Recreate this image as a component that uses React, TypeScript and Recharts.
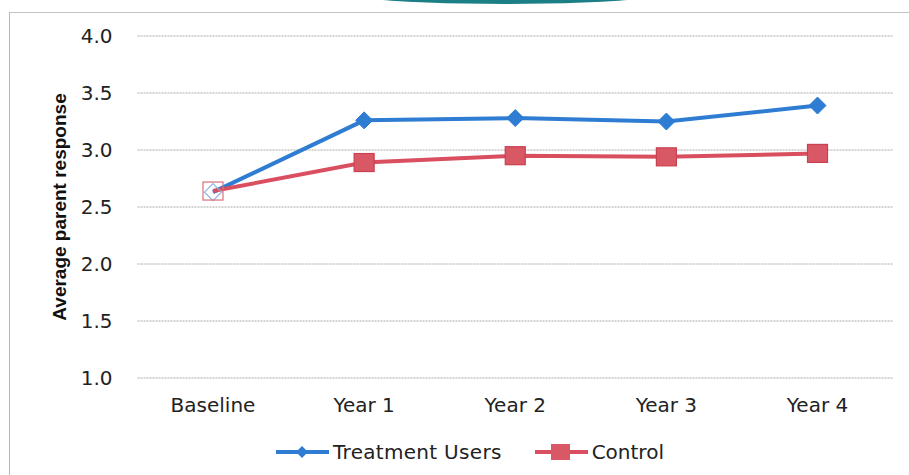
import React from 'react';
import { LineChart, Line, XAxis, YAxis, CartesianGrid, Legend } from 'recharts';

const categories = ['Baseline', 'Year 1', 'Year 2', 'Year 3', 'Year 4'];
const treatmentUsers = [2.63, 3.26, 3.28, 3.25, 3.39];
const control = [2.64, 2.89, 2.95, 2.94, 2.97];
const yTicks = [1.0, 1.5, 2.0, 2.5, 3.0, 3.5, 4.0];

const data = categories.map((c, i) => ({ name: c, treatment: treatmentUsers[i], control: control[i] }));

const BLUE = '#2e7dd3';
const RED = '#d94f5f';
const FONT = 'DejaVu Sans';

const DiamondDot = (props: any) => {
  const { cx, cy, index } = props;
  if (cx == null || cy == null) return null;
  const r = 8.5;
  const hollow = index === 0;
  return (
    <path
      key={`d${index}`}
      d={`M${cx},${cy - r}L${cx + r},${cy}L${cx},${cy + r}L${cx - r},${cy}Z`}
      fill={hollow ? 'none' : BLUE}
      stroke={hollow ? '#8fb3e3' : BLUE}
      strokeWidth={hollow ? 1.2 : 1}
    />
  );
};

const SquareDot = (props: any) => {
  const { cx, cy, index } = props;
  if (cx == null || cy == null) return null;
  const w = 20;
  const h = 18;
  const hollow = index === 0;
  return (
    <rect
      key={`s${index}`}
      x={cx - w / 2}
      y={cy - h / 2}
      width={w}
      height={h}
      fill={hollow ? 'none' : '#d95866'}
      stroke={hollow ? '#d9707c' : '#c9404f'}
      strokeWidth={1.2}
    />
  );
};

const LegendContent = () => (
  <div style={{ display: 'flex', alignItems: 'center', fontFamily: FONT, fontSize: 20, color: '#222' }}>
    <svg width={56} height={20} style={{ display: 'block' }}>
      <line x1={1} y1={10} x2={54} y2={10} stroke={BLUE} strokeWidth={4} />
      <path d="M27,4L33,10L27,16L21,10Z" fill={BLUE} />
    </svg>
    <span style={{ marginLeft: 2, letterSpacing: 0.3 }}>Treatment Users</span>
    <svg width={56} height={20} style={{ display: 'block', marginLeft: 32 }}>
      <line x1={1} y1={10} x2={54} y2={10} stroke={RED} strokeWidth={4} />
      <rect x={17} y={2} width={19} height={16} fill="#d95866" />
    </svg>
    <span style={{ marginLeft: 2 }}>Control</span>
  </div>
);

export default function App() {
  return (
    <div style={{ position: 'absolute', left: 0, top: 0, width: 909, height: 475, overflow: 'hidden', background: '#fff' }}>
      <div
        style={{
          position: 'absolute',
          left: 300,
          top: -36,
          width: 410,
          height: 40,
          borderRadius: '50%',
          background: '#1d7f86',
        }}
      />
      <div
        style={{
          position: 'absolute',
          left: 9,
          top: 12,
          width: 960,
          height: 520,
          borderTop: '1.5px solid #c4c4c4',
          borderLeft: '1.5px solid #b8b8b8',
        }}
      />
      <div style={{ position: 'absolute', left: 0, top: 0 }}>
        <LineChart width={909} height={475} data={data} margin={{ top: 36, right: 16, bottom: 67, left: 0 }}>
          <CartesianGrid vertical={false} stroke="#a8a8a8" strokeDasharray="2 1" strokeWidth={1} />
          <XAxis
            dataKey="name"
            height={30}
            padding={{ left: 75.5, right: 75.5 }}
            axisLine={false}
            tickLine={false}
            tickSize={0}
            tickMargin={20}
            interval={0}
            tick={{ fontFamily: FONT, fontSize: 20, fill: '#222' }}
          />
          <YAxis
            domain={[1, 4]}
            ticks={yTicks}
            width={137.5}
            axisLine={false}
            tickLine={false}
            tickSize={0}
            tickFormatter={(v: number) => v.toFixed(1)}
            tickMargin={25}
            tick={{ fontFamily: FONT, fontSize: 20, fill: '#222' }}
            label={{
              value: 'Average parent response',
              angle: -90,
              position: 'insideLeft',
              dx: 54,
              style: { fontFamily: 'Liberation Sans', fontWeight: 'bold', fontSize: 19, fill: '#111', textAnchor: 'middle' },
            }}
          />
          <Line
            type="linear"
            dataKey="treatment"
            name="Treatment Users"
            stroke={BLUE}
            strokeWidth={4}
            dot={<DiamondDot />}
            activeDot={false}
            isAnimationActive={false}
          />
          <Line
            type="linear"
            dataKey="control"
            name="Control"
            stroke={RED}
            strokeWidth={4}
            dot={<SquareDot />}
            activeDot={false}
            isAnimationActive={false}
          />
          <Legend
            layout="horizontal"
            verticalAlign="middle"
            align="center"
            content={<LegendContent />}
            wrapperStyle={{ left: 275, top: 440, width: 450, height: 24 }}
          />
        </LineChart>
      </div>
    </div>
  );
}
